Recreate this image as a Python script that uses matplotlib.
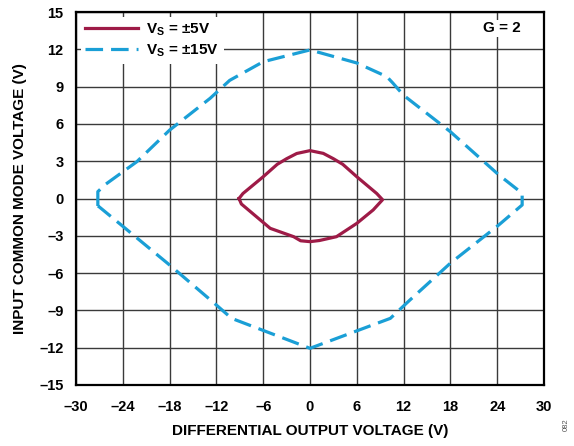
import matplotlib
matplotlib.use("Agg")
import matplotlib.pyplot as plt

plt.rcParams['font.family'] = ['Liberation Sans', 'DejaVu Sans']
plt.rcParams['font.weight'] = 'bold'

# Vs = ±5V (closed contour)
x5 = [-9.1, -8.6, -6.0, -4.2, -3.0, -1.7, 0.0, 1.7, 3.0, 4.2, 6.0, 8.56, 9.3, 8.1, 6.0, 3.4, 1.2, 0.0, -1.2, -2.1, -5.1, -8.8, -9.1]
y5 = [0.0, 0.4, 1.75, 2.75, 3.2, 3.62, 3.85, 3.63, 3.2, 2.75, 1.75, 0.4, -0.1, -0.92, -2.0, -3.07, -3.38, -3.47, -3.4, -3.07, -2.4, -0.44, 0.0]

# Vs = ±15V (closed contour)
x15 = [-27.2, -27.2, -26.3, -22.2, -18.0, -12.8, -10.3, -6.0, 0.0, 6.0, 9.85, 10.6, 12.0, 18.0, 24.2, 27.2, 27.2,
       24.2, 18.0, 12.8, 10.3, 0.0, -10.05, -12.0, -18.0, -24.2, -27.05, -27.2]
y15 = [-0.6, 0.55, 1.1, 2.96, 5.5, 8.06, 9.5, 11.0, 11.95, 10.9, 9.8, 9.3, 8.3, 5.37, 1.9, 0.42, -0.52,
       -2.13, -5.2, -8.17, -9.64, -12.05, -9.64, -8.57, -5.35, -2.13, -0.66, -0.6]

xticks = [-30, -24, -18, -12, -6, 0, 6, 12, 18, 24, 30]
yticks = [-15, -12, -9, -6, -3, 0, 3, 6, 9, 12, 15]
labels = ["V$_\\mathregular{S}$ = ±5V", "V$_\\mathregular{S}$ = ±15V"]

red = '#9E1B47'
blue = '#1A9FD6'

fig = plt.figure(figsize=(5.74, 4.46), dpi=100)
ax = fig.add_axes([76/574, 1-385/446, (544-76)/574, (385-12)/446])

ax.plot(x5, y5, color=red, lw=2.3, solid_joinstyle='round', label=labels[0], zorder=3)
ax.plot(x15, y15, color=blue, lw=2.3, dashes=(5.5, 2.5), label=labels[1], zorder=3)

ax.set_xlim(-30, 30)
ax.set_ylim(-15, 15)
ax.set_xticks(xticks)
ax.set_yticks(yticks)
fmt = lambda v: ("–" + str(abs(v))) if v < 0 else str(v)
ax.set_xticklabels([fmt(v) for v in xticks], fontsize=10.5, fontweight='bold')
ax.set_yticklabels([fmt(v) for v in yticks], fontsize=10.5, fontweight='bold')
ax.tick_params(axis='x', length=0, pad=11)
ax.tick_params(axis='y', length=0, pad=9)
ax.grid(True, color='#3a3a3a', lw=1.0)
ax.set_axisbelow(True)
for s in ax.spines.values():
    s.set_linewidth(1.6)
    s.set_color('black')

ax.set_xlabel("DIFFERENTIAL OUTPUT VOLTAGE (V)", fontsize=11, fontweight='bold', labelpad=7)
ax.set_ylabel("INPUT COMMON MODE VOLTAGE (V)", fontsize=11, fontweight='bold', labelpad=9)

leg = ax.legend(loc='upper left', bbox_to_anchor=(0.0, 1.0), frameon=True, fancybox=False,
                handlelength=3.45, handletextpad=0.55, borderpad=0.3, labelspacing=0.3,
                prop={'size': 11, 'weight': 'bold'}, borderaxespad=0.3)
leg.get_frame().set_facecolor('white')
leg.get_frame().set_edgecolor('none')
leg.get_frame().set_alpha(1)

ax.text(24.6, 13.7, "G = 2", fontsize=11, fontweight='bold', ha='center', va='center',
        bbox=dict(facecolor='white', edgecolor='none', pad=1.0), zorder=4)

fig.text(566/574, 1-425/446, "082", rotation=90, fontsize=5.5, color='#555555',
         ha='center', va='center', fontweight='normal')

fig.savefig("out.png", dpi=100)
